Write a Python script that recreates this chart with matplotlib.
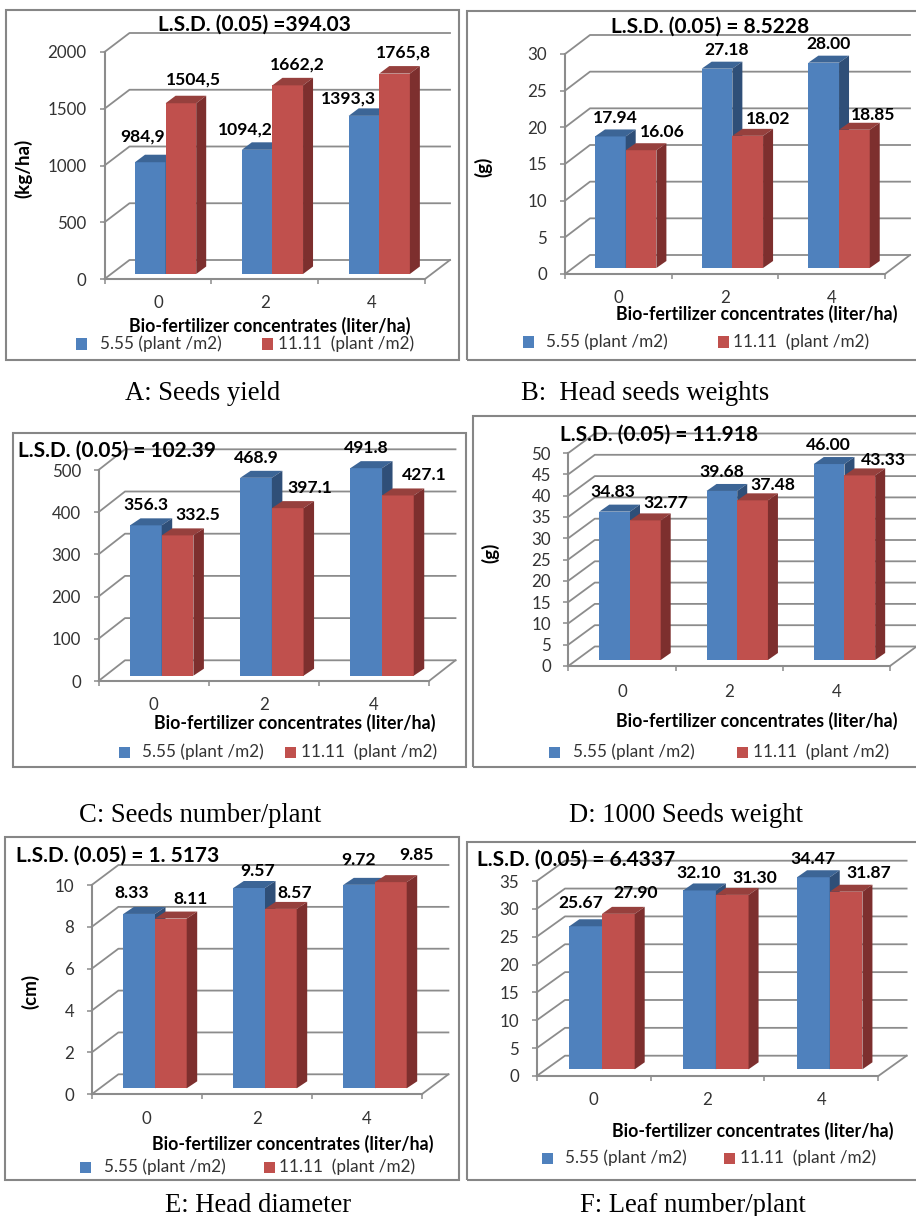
import matplotlib
matplotlib.use('Agg')
import matplotlib.pyplot as plt
from matplotlib.patches import Polygon, Rectangle

plt.rcParams['font.family'] = ['Lato', 'DejaVu Sans']

W, H = 916, 1216

# values
categories = ['0', '2', '4']
series_names = ['5.55 (plant /m2)', '11.11  (plant /m2)']
x_title = 'Bio-fertilizer concentrates (liter/ha)'

yield_low = [984.9, 1094.2, 1393.3]
yield_high = [1504.5, 1662.2, 1765.8]
yield_labels = ['984,9', '1504,5', '1094,2', '1662,2', '1393,3', '1765,8']
yield_ticks = [0, 500, 1000, 1500, 2000]

head_low = [17.94, 27.18, 28.00]
head_high = [16.06, 18.02, 18.85]
head_labels = ['17.94', '16.06', '27.18', '18.02', '28.00', '18.85']
head_ticks = [0, 5, 10, 15, 20, 25, 30]

number_low = [356.3, 468.9, 491.8]
number_high = [332.5, 397.1, 427.1]
number_labels = ['356.3', '332.5', '468.9', '397.1', '491.8', '427.1']
number_ticks = [0, 100, 200, 300, 400, 500]

seed_low = [34.83, 39.68, 46.00]
seed_high = [32.77, 37.48, 43.33]
seed_labels = ['34.83', '32.77', '39.68', '37.48', '46.00', '43.33']
seed_ticks = [0, 5, 10, 15, 20, 25, 30, 35, 40, 45, 50]

diam_low = [8.33, 9.57, 9.72]
diam_high = [8.11, 8.57, 9.85]
diam_labels = ['8.33', '8.11', '9.57', '8.57', '9.72', '9.85']
diam_ticks = [0, 2, 4, 6, 8, 10]

leaf_low = [25.67, 32.10, 34.47]
leaf_high = [27.90, 31.30, 31.87]
leaf_labels = ['25.67', '27.90', '32.10', '31.30', '34.47', '31.87']
leaf_ticks = [0, 5, 10, 15, 20, 25, 30, 35]

# colours
GRID = '#8c8c8c'
BLUE = ('#4f81bd', '#3c6596', '#2f4f78')
RED = ('#c0504d', '#96403d', '#7d2f2e')
TICK = '#333333'


def fx(px):
    return px / W


def fy(py):
    return 1 - py / H


fig = plt.figure(figsize=(W / 100, H / 100), dpi=100, facecolor='white')


def panel(low, high, labels, ticks, lsd, caption, layout):
    box = layout['box']
    fig.add_artist(Rectangle((fx(box[0]), fy(box[3])), (box[2] - box[0]) / W, (box[3] - box[1]) / H,
                             transform=fig.transFigure, fill=False, ec='#868686', lw=1.5))

    x0, x1, y0, ytop = layout['front']
    ax = fig.add_axes([fx(x0), fy(y0), (x1 - x0) / W, (y0 - ytop) / H])
    ax.patch.set_visible(False)
    ymax = ticks[-1]
    ax.set_xlim(0, 3)
    ax.set_ylim(0, ymax)

    # pixels to data units
    ux = 3 / (x1 - x0)
    uy = ymax / (y0 - ytop)
    dx, dy = layout['depth']
    wx, wy = dx * ux, dy * uy

    # back wall and floor
    for v in ticks:
        ax.plot([0, wx, 3 + wx], [v, v + wy, v + wy], color=GRID, lw=1.3, clip_on=False, zorder=1)
    ax.plot([3, 3 + wx], [0, wy], color=GRID, lw=1.3, clip_on=False, zorder=1)

    # bars
    left, bw, base, ddx, ddy = layout['bars']
    group = (x1 - x0) / 3
    z = 2
    for i in range(3):
        for k, (vals, cols) in enumerate(((low, BLUE), (high, RED))):
            l = (left - x0 + i * group + k * bw) * ux
            r = l + bw * ux
            b = (y0 - base) * uy
            t = b + vals[i]
            ex, ey = ddx * ux, ddy * uy
            ax.bar(l, vals[i], bw * ux, bottom=b, align='edge', color=cols[0], lw=0,
                   clip_on=False, zorder=z)
            ax.add_patch(Polygon([(l, t), (r, t), (r + ex, t + ey), (l + ex, t + ey)], fc=cols[1], lw=0,
                                 clip_on=False, zorder=z))
            ax.add_patch(Polygon([(r, b), (r + ex, b + ey), (r + ex, t + ey), (r, t)], fc=cols[2], lw=0,
                                 clip_on=False, zorder=z))
            z += 1

    # axes
    for s in ('top', 'right'):
        ax.spines[s].set_visible(False)
    for s in ('left', 'bottom'):
        ax.spines[s].set_color(GRID)
        ax.spines[s].set_linewidth(1.5)
    ax.set_yticks(ticks)
    ax.set_yticklabels([str(v) for v in ticks])
    ax.tick_params(axis='y', length=3.6, width=1.1, color=GRID, labelcolor=TICK, labelsize=12.2, pad=layout['ypad'])
    ax.set_xticks([0, 1, 2, 3])
    ax.set_xticklabels([])
    ax.tick_params(axis='x', which='major', length=3.6, width=1.1, color=GRID)
    ax.set_xticks([0.5, 1.5, 2.5], minor=True)
    ax.set_xticklabels(categories, minor=True)
    ax.tick_params(axis='x', which='minor', length=0, labelcolor=TICK, labelsize=12.2,
                   pad=(layout['xtick_y'] - y0) * 0.72)
    for lab in ax.get_xticklabels(minor=True):
        lab.set_va('center')

    # texts
    for s, (px, py) in zip(labels, layout['labels']):
        fig.text(fx(px), fy(py), s, ha='center', va='center', fontsize=12.6, fontweight='bold', color='black')
    tx, ty = layout['title']
    fig.text(fx(tx), fy(ty), lsd, ha='center', va='center', fontsize=15, fontweight='bold', color='black')
    tx, ty = layout['xtitle']
    fig.text(fx(tx), fy(ty), x_title, ha='center', va='center', fontsize=12.8, fontweight='bold', color='black')
    if layout.get('ylabel'):
        s, tx, ty = layout['ylabel']
        fig.text(fx(tx), fy(ty), s, ha='center', va='center', rotation=90, fontsize=13.5, fontweight='bold',
                 color='black')

    # legend
    ly = layout['legend_y']
    for name, col, mx, lx in zip(series_names, (BLUE[0], RED[0]), layout['legend_marks'], layout['legend_text']):
        fig.add_artist(Rectangle((fx(mx - 5.5), fy(ly + 5.5)), 11 / W, 11 / H, transform=fig.transFigure,
                                 fc=col, lw=0))
        fig.text(fx(lx), fy(ly), name, ha='left', va='center', fontsize=12.3, color=TICK)

    tx, ty = layout['caption']
    fig.text(fx(tx), fy(ty), caption, ha='center', va='center', fontsize=19.2, family='Liberation Serif',
             color='black')


panel(yield_low, yield_high, yield_labels, yield_ticks, 'L.S.D. (0.05) =394.03', 'A: Seeds yield', {
    'box': (6, 10, 459, 360), 'front': (104.5, 425, 279, 52), 'depth': (25, 19),
    'bars': (135, 30.6, 274, 10, 7.5), 'ypad': 9.5, 'xtick_y': 303,
    'labels': [(143, 137), (193, 80), (245, 130), (297, 65), (348, 99), (403, 53)],
    'title': (254, 25), 'xtitle': (270, 326), 'ylabel': ('(kg/ha)', 23, 168),
    'legend_y': 344, 'legend_marks': (81, 267), 'legend_text': (100, 278), 'caption': (203, 394)})

panel(head_low, head_high, head_labels, head_ticks, 'L.S.D. (0.05) = 8.5228', 'B:  Head seeds weights', {
    'box': (467, 11, 918, 360), 'front': (565, 885, 274, 54), 'depth': (25, 19),
    'bars': (595, 30.7, 268, 10, 7), 'ypad': 9.5, 'xtick_y': 298,
    'labels': [(615, 118), (662, 132), (727, 50), (768, 119), (829, 44), (873, 115)],
    'title': (710, 27), 'xtitle': (757, 314), 'ylabel': ('(g)', 483, 167),
    'legend_y': 342, 'legend_marks': (528, 723), 'legend_text': (546, 733), 'caption': (645, 394)})

panel(number_low, number_high, number_labels, number_ticks, 'L.S.D. (0.05) = 102.39', 'C: Seeds number/plant', {
    'box': (13, 433, 466, 767), 'front': (98.5, 429, 681, 470), 'depth': (26.5, 20.7),
    'bars': (130, 31.7, 675.7, 10.5, 7), 'ypad': 9, 'xtick_y': 705,
    'labels': [(146, 505), (198, 515), (256, 458), (310, 488), (366, 448), (424, 475)],
    'title': (117, 451), 'xtitle': (295, 723),
    'legend_y': 752, 'legend_marks': (124, 290), 'legend_text': (142, 301), 'caption': (200, 815)})

panel(seed_low, seed_high, seed_labels, seed_ticks, 'L.S.D. (0.05) = 11.918', 'D: 1000 Seeds weight', {
    'box': (473, 416, 918, 767), 'front': (568.3, 890, 666, 453), 'depth': (26.5, 19.5),
    'bars': (599.3, 30.7, 660, 10, 7), 'ypad': 9, 'xtick_y': 692,
    'labels': [(613, 492), (666, 503), (722, 472), (773, 485), (828, 445), (883, 460)],
    'title': (659, 435), 'xtitle': (757, 721), 'ylabel': ('(g)', 490, 553),
    'legend_y': 752, 'legend_marks': (554, 742), 'legend_text': (573, 753), 'caption': (686, 815)})

panel(diam_low, diam_high, diam_labels, diam_ticks, 'L.S.D. (0.05) = 1. 5173', 'E: Head diameter', {
    'box': (5, 837, 459, 1180), 'front': (91.7, 421.7, 1094.3, 885), 'depth': (26.7, 20),
    'bars': (123.3, 31.7, 1088.3, 10.5, 7), 'ypad': 9, 'xtick_y': 1119,
    'labels': [(132, 893), (191, 899), (258, 871), (295, 893), (358, 860), (417, 855)],
    'title': (118, 856), 'xtitle': (293, 1144), 'ylabel': ('(cm)', 30, 991),
    'legend_y': 1167, 'legend_marks': (85, 269), 'legend_text': (104, 279), 'caption': (258, 1205)})

panel(leaf_low, leaf_high, leaf_labels, leaf_ticks, 'L.S.D. (0.05) = 6.4337', 'F: Leaf number/plant', {
    'box': (467, 842, 918, 1180), 'front': (536.7, 878.3, 1076, 881), 'depth': (28.3, 20.3),
    'bars': (569.3, 32.7, 1069.3, 10, 7), 'ypad': 9, 'xtick_y': 1100,
    'labels': [(581, 903), (636, 893), (699, 873), (755, 878), (813, 859), (869, 873)],
    'title': (576, 860), 'xtitle': (753, 1131),
    'legend_y': 1158, 'legend_marks': (547, 729), 'legend_text': (565, 740), 'caption': (693, 1205)})

fig.savefig('out.png', dpi=100)
